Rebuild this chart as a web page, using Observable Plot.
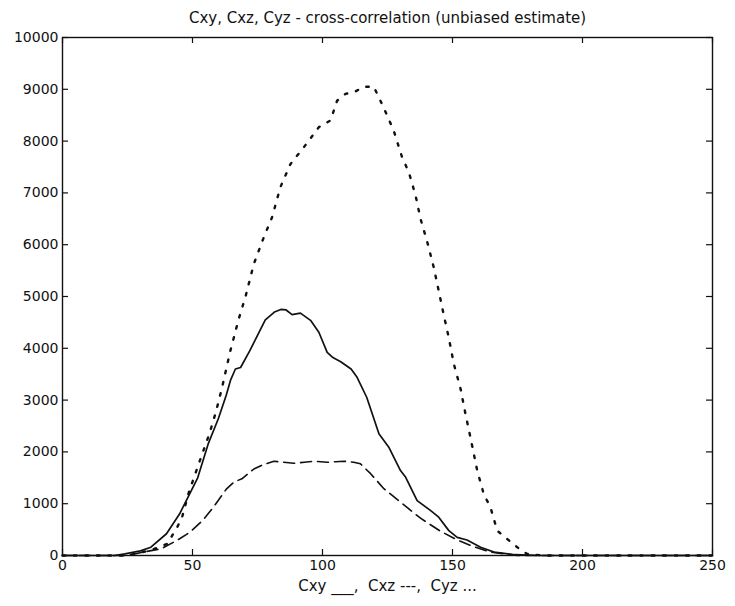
<!DOCTYPE html>
<html>
<head>
<meta charset="utf-8">
<script src="https://cdn.jsdelivr.net/npm/d3@7"></script>
<script src="https://cdn.jsdelivr.net/npm/@observablehq/plot@0.6"></script>
<style>
  html, body { margin: 0; padding: 0; background: #fff; }
  #chart { width: 735px; height: 606px; }
</style>
</head>
<body>
<div id="chart"></div>
<script>
const title = "Cxy, Cxz, Cyz - cross-correlation (unbiased estimate)";
const xLabel = "Cxy ___,  Cxz ---,  Cyz ...";
const xTicks = [0, 50, 100, 150, 200, 250];
const yTicks = [0, 1000, 2000, 3000, 4000, 5000, 6000, 7000, 8000, 9000, 10000];

// Cxy (solid)
const cxyLag = [0, 20, 24, 30, 34, 40, 45, 48, 52, 56, 60, 63, 64.6, 66.5, 68.5, 72, 75, 78, 81.5, 84, 86, 88.3, 91.5, 95.4, 98.6, 101.8, 104, 107, 111, 113.3, 117, 121.7, 125.5, 127.4, 130, 132, 136.4, 141.5, 144.7, 148.6, 151.8, 155.6, 160.8, 166, 174, 184, 200, 250];
const cxyVal = [0, 0, 30, 90, 160, 420, 800, 1100, 1500, 2150, 2650, 3100, 3380, 3600, 3630, 3950, 4250, 4550, 4700, 4750, 4740, 4650, 4680, 4540, 4310, 3920, 3820, 3740, 3600, 3440, 3055, 2350, 2090, 1900, 1640, 1510, 1060, 870, 740, 480, 350, 300, 160, 65, 15, 0, 0, 0];

// Cxz (dashed)
const cxzLag = [0, 25, 31, 38, 44, 49, 54, 58, 63, 66, 69, 73.6, 77, 81.3, 85, 89, 93, 96.7, 101.8, 105, 108.2, 112, 114.6, 118.5, 123.6, 130, 137.7, 145, 151.8, 158.2, 164.6, 175, 250];
const cxzVal = [0, 0, 65, 130, 290, 450, 680, 930, 1280, 1420, 1480, 1670, 1750, 1820, 1800, 1780, 1800, 1820, 1800, 1810, 1820, 1800, 1770, 1580, 1290, 1030, 720, 480, 300, 170, 65, 0, 0];

// Cyz (dotted)
const cyzLag = [0, 25, 33.8, 40.3, 44.1, 46, 48.6, 53.1, 56.5, 59, 61.4, 64.6, 67.8, 70.4, 73.6, 77.4, 80.6, 83.8, 87.7, 92.8, 98.6, 103.1, 105.6, 108.8, 112.7, 115.9, 119.7, 123.6, 127.4, 130.6, 133.2, 135.8, 137.7, 140.3, 142.8, 144.7, 146.7, 148.6, 150.5, 153.1, 155, 156.9, 159.5, 162, 164.6, 167.2, 171, 174.9, 178.7, 185, 250];
const cyzVal = [0, 0, 100, 225, 545, 740, 1220, 1870, 2350, 2770, 3250, 3960, 4570, 5000, 5630, 6140, 6530, 7110, 7560, 7880, 8270, 8400, 8780, 8910, 8960, 9050, 9050, 8640, 8200, 7690, 7400, 6950, 6500, 6050, 5560, 5110, 4630, 4200, 3700, 3220, 2730, 2280, 1640, 1190, 930, 480, 320, 160, 30, 0, 0];

const toRows = (xs, ys) => xs.map((x, i) => ({x, y: ys[i]}));
const cxy = toRows(cxyLag, cxyVal);
const cxz = toRows(cxzLag, cxzVal);
const cyz = toRows(cyzLag, cyzVal);

const W = 735, H = 606, ML = 62, MR = 23, MT = 37, MB = 51;
const innerW = W - ML - MR, innerH = H - MT - MB;
const tick = 6;
const ink = "#111";

const chart = Plot.plot({
  width: W, height: H,
  marginLeft: ML, marginRight: MR, marginTop: MT, marginBottom: MB,
  style: {fontFamily: "'DejaVu Sans', 'Liberation Sans', Arial, sans-serif", fontSize: "14px", color: ink, background: "#fff"},
  x: {domain: [0, 250]},
  y: {domain: [0, 10000]},
  marks: [
    Plot.axisX({ticks: xTicks, tickSize: 0, tickPadding: 5, tickFormat: d => String(d), label: null, fontSize: 14}),
    Plot.axisY({ticks: yTicks, tickSize: 0, tickPadding: 4, tickFormat: d => String(d), label: null, fontSize: 14}),
    Plot.tickX(xTicks, {x: d => d, insetTop: innerH - tick, stroke: ink, strokeWidth: 1.2}),
    Plot.tickX(xTicks, {x: d => d, insetBottom: innerH - tick, stroke: ink, strokeWidth: 1.2}),
    Plot.tickY(yTicks, {y: d => d, insetRight: innerW - tick, stroke: ink, strokeWidth: 1.2}),
    Plot.tickY(yTicks, {y: d => d, insetLeft: innerW - tick, stroke: ink, strokeWidth: 1.2}),
    Plot.line(cyz, {x: "x", y: "y", stroke: ink, strokeWidth: 2.4, strokeDasharray: "2.5,9"}),
    Plot.line(cxz, {x: "x", y: "y", stroke: ink, strokeWidth: 1.6, strokeDasharray: "11,6"}),
    Plot.line(cxy, {x: "x", y: "y", stroke: ink, strokeWidth: 1.7}),
    Plot.frame({stroke: ink, strokeWidth: 1.4}),
    Plot.text([title], {frameAnchor: "top", dy: -25, text: d => d, fontSize: 15, fill: ink}),
    Plot.text([xLabel], {frameAnchor: "bottom", dy: 35, text: d => d, fontSize: 15, fill: ink})
  ]
});
document.getElementById("chart").appendChild(chart);
</script>
</body>
</html>
